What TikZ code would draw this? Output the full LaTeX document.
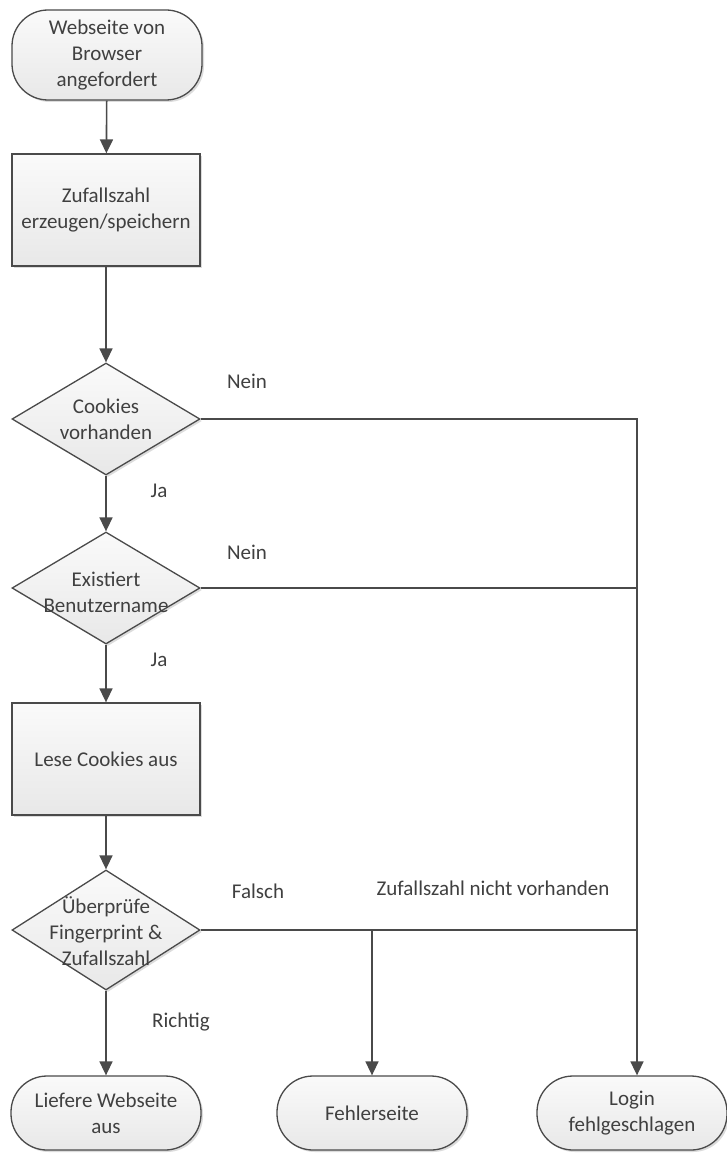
\documentclass[tikz,border=0pt]{standalone}
\usepackage{fontspec}
\setmainfont{Carlito}
\usetikzlibrary{shapes.geometric,arrows.meta,shadows}
\definecolor{ink}{HTML}{404040}
\definecolor{edge}{HTML}{4A4A4A}
\begin{document}
\begin{tikzpicture}[x=1pt,y=-1pt,
  font=\fontsize{21}{26}\selectfont, text=ink,
  shapebase/.style={draw=edge, line width=1.3pt, top color=black!2, bottom color=black!9,
    drop shadow={shadow xshift=2pt, shadow yshift=-2pt, fill=black!30, opacity=.45}},
  term/.style={shapebase, rectangle, rounded corners=36pt, minimum width=190pt, minimum height=#1, inner sep=0pt, align=center},
  proc/.style={shapebase, rectangle, minimum width=188pt, minimum height=112pt, inner sep=0pt, align=center},
  dec/.style={shapebase, diamond, minimum width=188pt, minimum height=#1, inner sep=0pt},
  dtext/.style={align=center, inner sep=0pt},
  lbl/.style={inner sep=0pt, anchor=center},
  flow/.style={draw=edge, line width=1.6pt, -{Triangle[length=14pt,width=13pt]}},
  wire/.style={draw=edge, line width=1.6pt}]
  \useasboundingbox[fill=white] (0,0) rectangle (726,1153);

  % main column
  \node[term=90pt] (start) at (107,55) {Webseite von\\Browser\\angefordert};
  \node[proc] (gen) at (106,210) {Zufallszahl\\erzeugen/speichern};
  \node[dec=112pt] (cookies) at (106,419) {};
  \node[dtext] (cookiesT) at (cookies) {Cookies\\vorhanden};
  \node[dec=112pt] (user) at (106,588) {};
  \node[dtext] (userT) at (106,592) {Existiert\\Benutzername};
  \node[proc] (read) at (106,759) {Lese Cookies aus};
  \node[dec=120pt] (check) at (106,930) {};
  \node[dtext] (checkT) at (106,931) {Überprüfe\\Fingerprint \&\\Zufallszahl};

  % end states
  \node[term=74pt] (deliver) at (106,1113) {Liefere Webseite\\aus};
  \node[term=74pt] (error) at (372,1113) {Fehlerseite};
  \node[term=74pt] (fail) at (632,1113) {Login\\fehlgeschlagen};

  % junctions on the right-hand rails
  \coordinate (railTop) at (637,419);
  \coordinate (railUser) at (637,588);
  \coordinate (railCheck) at (637,930);
  \coordinate (errSplit) at (372,930);

  % connectors
  \draw[flow] (start) -- (gen);
  \draw[flow] (gen) -- (cookies);
  \draw[flow] (cookies) -- (user);
  \draw[flow] (user) -- (read);
  \draw[flow] (read) -- (check);
  \draw[flow] (check) -- (deliver);
  \draw[flow] (cookies.east) -- (railTop) -- (railTop |- fail.north);
  \draw[wire] (user.east) -- (railUser);
  \draw[wire] (check.east) -- (railCheck);
  \draw[flow] (errSplit) -- (error.north);

  % branch labels
  \node[lbl] (n1) at (247,381) {Nein};
  \node[lbl] (j1) at (159,491) {Ja};
  \node[lbl] (n2) at (247,552) {Nein};
  \node[lbl] (j2) at (159,660) {Ja};
  \node[lbl] (f1) at (258,891) {Falsch};
  \node[lbl] (z1) at (493,888) {Zufallszahl nicht vorhanden};
  \node[lbl] (r1) at (181,1022) {Richtig};
\end{tikzpicture}
\end{document}
